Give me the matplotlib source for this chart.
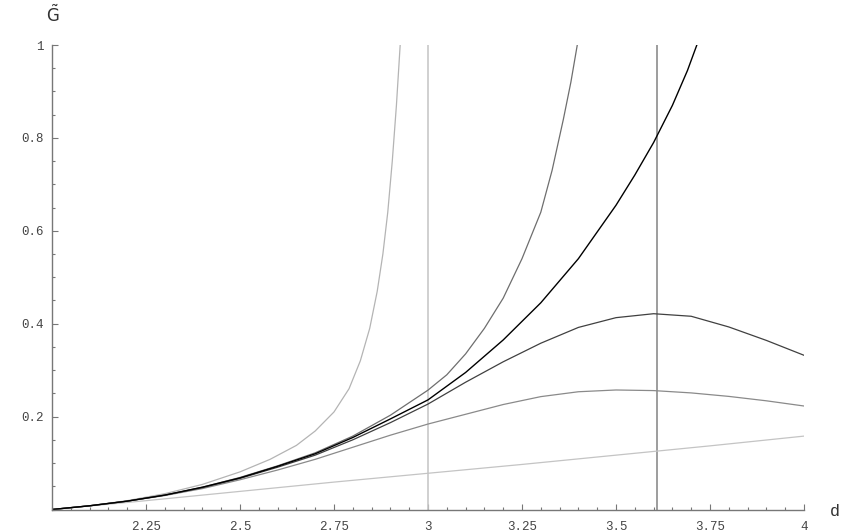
import matplotlib
matplotlib.use("Agg")
import matplotlib.pyplot as plt
from matplotlib.ticker import MultipleLocator, FixedLocator

plt.rcParams["mathtext.fontset"] = "dejavusans"

# curves (d, G~)
d1 = [2.0, 2.1, 2.2, 2.3, 2.4, 2.5, 2.58, 2.65, 2.7, 2.75, 2.79, 2.82, 2.845,
      2.865, 2.88, 2.893, 2.905, 2.916, 2.926]
g1 = [0, 0.008, 0.019, 0.034, 0.054, 0.081, 0.108, 0.138, 0.169, 0.21, 0.26,
      0.32, 0.39, 0.47, 0.55, 0.64, 0.75, 0.87, 1.0]

d2 = [2.0, 2.1, 2.2, 2.3, 2.4, 2.5, 2.6, 2.7, 2.8, 2.9, 3.0, 3.05, 3.1, 3.15,
      3.2, 3.25, 3.3, 3.33, 3.36, 3.38, 3.397]
g2 = [0, 0.008, 0.018, 0.031, 0.048, 0.069, 0.094, 0.122, 0.158, 0.203, 0.257,
      0.29, 0.335, 0.39, 0.455, 0.54, 0.64, 0.73, 0.84, 0.92, 1.0]

d3 = [2.0, 2.1, 2.2, 2.3, 2.4, 2.5, 2.6, 2.7, 2.8, 2.9, 3.0, 3.1, 3.2, 3.3,
      3.4, 3.5, 3.55, 3.6, 3.65, 3.69, 3.715]
g3 = [0, 0.008, 0.018, 0.031, 0.048, 0.068, 0.093, 0.12, 0.155, 0.195, 0.236,
      0.295, 0.365, 0.445, 0.54, 0.655, 0.72, 0.79, 0.87, 0.945, 1.0]

d4 = [2.0, 2.1, 2.2, 2.3, 2.4, 2.5, 2.6, 2.7, 2.8, 2.9, 3.0, 3.1, 3.2, 3.3,
      3.4, 3.5, 3.6, 3.7, 3.8, 3.9, 4.0]
g4 = [0, 0.008, 0.018, 0.031, 0.047, 0.067, 0.091, 0.117, 0.15, 0.187, 0.227,
      0.274, 0.318, 0.358, 0.392, 0.413, 0.4215, 0.416, 0.393, 0.364, 0.332]

d5 = [2.0, 2.1, 2.2, 2.3, 2.4, 2.5, 2.6, 2.7, 2.8, 2.9, 3.0, 3.1, 3.2, 3.3,
      3.4, 3.5, 3.6, 3.7, 3.8, 3.9, 4.0]
g5 = [0, 0.008, 0.018, 0.03, 0.045, 0.064, 0.085, 0.108, 0.134, 0.16, 0.184,
      0.205, 0.226, 0.243, 0.2535, 0.2573, 0.256, 0.251, 0.2435, 0.234, 0.2228]

d6 = [2.0, 2.25, 2.5, 2.75, 3.0, 3.25, 3.5, 3.75, 4.0]
g6 = [0, 0.019, 0.039, 0.059, 0.078, 0.097, 0.117, 0.137, 0.158]

vlines = [3.0, 3.61]

xticks = [2.25, 2.5, 2.75, 3, 3.25, 3.5, 3.75, 4]
xlabels = ["2.25", "2.5", "2.75", "3", "3.25", "3.5", "3.75", "4"]
yticks = [0.2, 0.4, 0.6, 0.8, 1]
ylabels = ["0.2", "0.4", "0.6", "0.8", "1"]

fig = plt.figure(figsize=(8.61, 5.32), dpi=100)
ax = fig.add_axes([52/861, 22.5/532, 752/861, 464.5/532])

ax.axvline(vlines[0], color="#c8c8c8", lw=1.2)
ax.axvline(vlines[1], color="#8c8c8c", lw=1.2)

ax.plot(d6, g6, color="#c4c4c4", lw=0.9)
ax.plot(d1, g1, color="#b4b4b4", lw=0.9)
ax.plot(d5, g5, color="#8a8a8a", lw=0.9)
ax.plot(d2, g2, color="#6e6e6e", lw=0.9)
ax.plot(d4, g4, color="#404040", lw=0.9)
ax.plot(d3, g3, color="#000000", lw=1.0)

ax.set_xlim(2, 4)
ax.set_ylim(0, 1)

for s in ["top", "right"]:
    ax.spines[s].set_visible(False)
for s in ["left", "bottom"]:
    ax.spines[s].set_color("#777777")
    ax.spines[s].set_linewidth(1.0)

ax.xaxis.set_major_locator(FixedLocator(xticks))
ax.set_xticklabels(xlabels)
ax.yaxis.set_major_locator(FixedLocator(yticks))
ax.set_yticklabels(ylabels)
ax.xaxis.set_minor_locator(MultipleLocator(0.05))
ax.yaxis.set_minor_locator(MultipleLocator(0.05))

ax.tick_params(which="major", direction="in", length=4, width=0.8, color="#777777",
               labelsize=9, labelcolor="#444444")
ax.tick_params(which="minor", direction="in", length=2.5, width=0.8, color="#777777")
ax.tick_params(axis="x", which="major", pad=8)
ax.tick_params(axis="y", which="major", pad=6)
for lab in ax.get_xticklabels() + ax.get_yticklabels():
    lab.set_family("Liberation Mono")

fig.text(52.5/861, 1 - 15/532, r"$\tilde{\mathrm{G}}$", ha="center", va="center",
         fontsize=12, color="#333333")
fig.text(835/861, 1 - 512/532, "d", ha="center", va="center",
         fontsize=12, color="#333333", family="Liberation Mono")

fig.savefig("out.png", dpi=100)
